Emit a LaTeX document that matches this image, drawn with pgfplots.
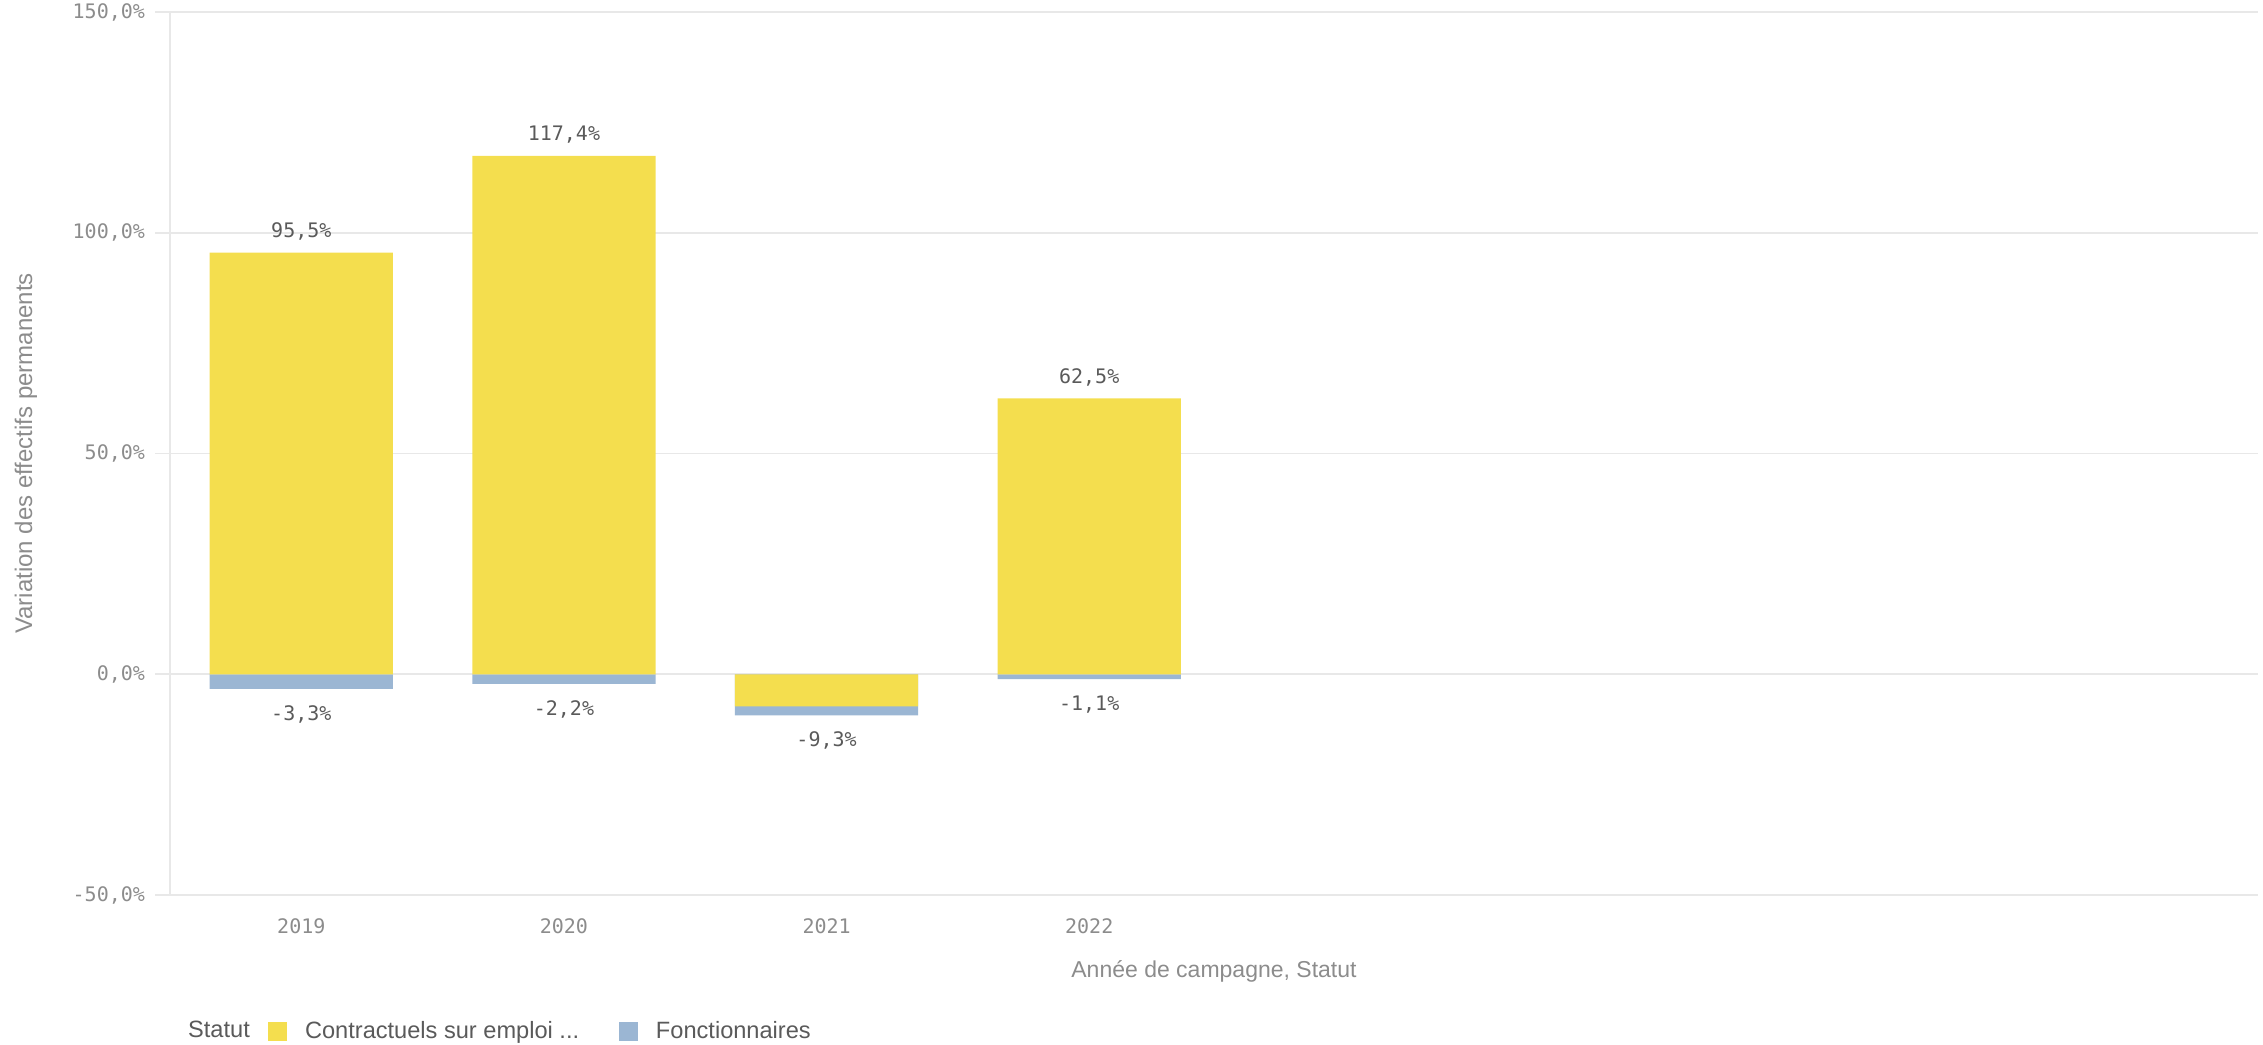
\documentclass[border=0pt]{standalone}
\usepackage{pgfplots}
\pgfplotsset{compat=1.18}
\usepackage{fontspec}
\setmainfont{Liberation Sans}
\newfontfamily\monofont{DejaVu Sans Mono}
\definecolor{cyel}{HTML}{F4DE4E}
\definecolor{cblu}{HTML}{9BB6D3}
\definecolor{tickc}{HTML}{8C8C8C}
\definecolor{labc}{HTML}{5A5A5A}
\definecolor{gridc}{HTML}{E8E8E8}
\pgfplotsset{/pgf/number format/.cd, use comma, fixed, fixed zerofill, precision=1, assume math mode=true}
\begin{document}
\begin{tikzpicture}
\useasboundingbox (-85pt,-74.5pt) rectangle (1046.5pt,447.5pt);
\begin{axis}[
  scale only axis, width=1044pt, height=441.5pt,
  xmin=-0.5, xmax=7.45, ymin=-50, ymax=150,
  xtick={0,1,2,3}, xticklabels={2019,2020,2021,2022},
  ytick={-50,0,50,100,150},
  yticklabel={\pgfmathprintnumber{\tick}\%},
  ymajorgrids, grid style={gridc, line width=0.8pt},
  axis x line*=bottom, axis y line*=left,
  x axis line style={draw=none}, y axis line style={gridc, line width=0.8pt},
  tick align=outside, major tick length=7.5pt,
  ytick style={gridc, line width=0.8pt}, xtick style={draw=none},
  ticklabel style={font=\monofont\fontsize{10}{12}\selectfont, text=tickc},
  yticklabel style={xshift=-1.5pt},
  xticklabel style={yshift=-1pt},
  xlabel={Année de campagne, Statut},
  xlabel style={at={(axis description cs:0.5,0)}, anchor=center, yshift=-38pt, font=\fontsize{11.5}{13}\selectfont, text=tickc},
  ylabel={Variation des effectifs permanents},
  ylabel style={at={(axis description cs:-0.069,0.5)}, anchor=center, font=\fontsize{12}{14}\selectfont, text=tickc},
  legend columns=-1,
  legend style={at={(axis description cs:0,0)}, anchor=west, xshift=-0.1pt, yshift=-68pt, draw=none, fill=none, inner sep=0pt,
    font=\fontsize{11.8}{13}\selectfont, text=labc,
    /tikz/every odd column/.append style={column sep=7pt},
    /tikz/every even column/.append style={column sep=18pt}},
  every node near coord/.append style={font=\monofont\fontsize{10}{12}\selectfont, text=labc},
]
\addlegendimage{empty legend}
\addlegendentry{Statut\hspace*{-10.8pt}}
\addlegendimage{legend image code/.code={\fill[cyel] (0pt,-4.5pt) rectangle (9pt,4.5pt);}}
\addlegendentry{Contractuels sur emploi ...}
\addlegendimage{legend image code/.code={\fill[cblu] (0pt,-4.5pt) rectangle (9pt,4.5pt);}}
\addlegendentry{Fonctionnaires}

\addplot[ybar, bar width=91.6pt, bar shift=0pt, fill=cblu, draw=none, forget plot,
  nodes near coords={\pgfmathprintnumber{\pgfplotspointmeta}\%},
  every node near coord/.append style={inner sep=8pt}]
  coordinates {(0,-3.3) (1,-2.2) (2,-9.3) (3,-1.1)};
\addplot[ybar, bar width=91.6pt, bar shift=0pt, fill=cyel, draw=none, forget plot,
  nodes near coords={\pgfmathfloatifflags{\pgfplotspointmeta}{-}{}{\pgfmathprintnumber{\pgfplotspointmeta}\%}},
  every node near coord/.append style={inner sep=6pt}]
  coordinates {(0,95.5) (1,117.4) (2,-7.3) (3,62.5)};
\end{axis}
\end{tikzpicture}
\end{document}
